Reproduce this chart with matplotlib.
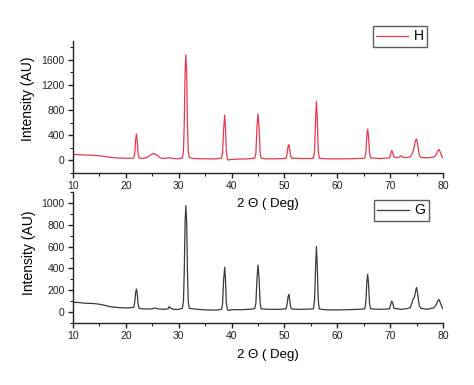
import matplotlib
matplotlib.use("Agg")
import matplotlib.pyplot as plt
from matplotlib.ticker import MultipleLocator

plt.rcParams['font.family'] = ['Liberation Sans', 'DejaVu Sans']

# ---- data ----
H_x = [10.0, 11.0, 12.0, 13.0, 14.0, 15.0, 16.0, 17.0, 18.0, 19.0, 20.0, 21.0,
       21.5, 21.7, 21.85, 22.0, 22.15, 22.3, 22.5,
       23.0, 24.0, 24.6, 25.2, 25.8, 26.5, 27.5, 28.0, 28.3, 29.0, 30.0,
       30.7, 30.9, 31.05, 31.2, 31.35, 31.5, 31.65, 31.8, 32.0,
       33.0, 35.0, 37.0, 38.1, 38.3, 38.5, 38.7, 38.85, 39.0, 39.2, 39.4, 39.8, 41.0, 43.0,
       44.4, 44.6, 44.8, 45.0, 45.2, 45.4, 45.6,
       46.5, 48.0, 50.0, 50.3, 50.5, 50.7, 50.85, 51.0, 51.2, 51.4,
       53.0, 55.0, 55.5, 55.7, 55.9, 56.05, 56.2, 56.4, 56.6,
       58.0, 60.0, 62.0, 64.0, 65.2, 65.4, 65.6, 65.75, 65.9, 66.1, 66.3,
       68.0, 69.9, 70.1, 70.3, 70.5, 70.7, 71.2, 71.6, 72.0, 72.4, 73.0,
       73.8, 74.2, 74.5, 74.8, 75.0, 75.2, 75.5, 75.8, 77.0,
       78.3, 78.7, 79.0, 79.25, 79.5, 79.8, 80.0]
H_y = [95, 92, 88, 85, 80, 75, 62, 50, 42, 38, 35, 33,
       40, 120, 330, 420, 320, 110, 40,
       30, 45, 85, 110, 90, 40, 30, 45, 40, 30, 25,
       40, 150, 600, 1400, 1680, 1400, 600, 150, 45,
       30, 25, 25, 35, 120, 500, 720, 520, 150, 20, 5, 15, 20, 25,
       35, 120, 520, 740, 530, 130, 35,
       25, 25, 30, 35, 100, 230, 250, 170, 60, 35,
       30, 30, 35, 150, 650, 940, 700, 150, 35,
       25, 25, 25, 30, 35, 120, 400, 500, 380, 120, 40,
       30, 40, 100, 160, 120, 55, 45, 50, 75, 50, 45,
       55, 110, 200, 320, 340, 260, 90, 50, 40,
       55, 90, 150, 175, 130, 60, 40]

G_x = [10.0, 11.0, 12.0, 13.0, 14.0, 15.0, 16.0, 17.0, 18.0, 19.0, 20.0, 21.0,
       21.5, 21.7, 21.85, 22.0, 22.15, 22.3, 22.5,
       23.0, 24.0, 25.0, 25.5, 26.0, 27.0, 28.0, 28.2, 28.5, 29.0, 30.0,
       30.7, 30.9, 31.05, 31.2, 31.35, 31.5, 31.65, 31.8, 32.0,
       33.0, 35.0, 37.0, 38.1, 38.3, 38.5, 38.7, 38.85, 39.0, 39.2, 39.4, 40.0, 42.0, 44.0,
       44.4, 44.6, 44.8, 45.0, 45.2, 45.4, 45.6,
       47.0, 49.0, 50.3, 50.5, 50.7, 50.85, 51.0, 51.2, 51.4,
       53.0, 55.0, 55.5, 55.7, 55.9, 56.05, 56.2, 56.4, 56.6,
       58.0, 60.0, 62.0, 64.0, 65.2, 65.4, 65.6, 65.75, 65.9, 66.1, 66.3,
       68.0, 69.9, 70.1, 70.3, 70.5, 70.7, 72.0, 73.0,
       73.8, 74.1, 74.3, 74.6, 74.85, 75.0, 75.2, 75.5, 75.8, 77.0,
       78.3, 78.7, 79.0, 79.25, 79.5, 79.8, 80.0]
G_y = [90, 88, 82, 80, 78, 72, 62, 50, 44, 40, 38, 40,
       45, 100, 180, 210, 170, 80, 35,
       30, 28, 30, 38, 30, 25, 30, 50, 35, 25, 25,
       35, 100, 380, 820, 975, 820, 380, 100, 35,
       28, 20, 18, 25, 80, 300, 410, 300, 90, 25, 15, 22, 22, 28,
       35, 80, 300, 430, 310, 80, 30,
       25, 25, 30, 70, 145, 160, 110, 40, 28,
       25, 28, 30, 110, 420, 600, 440, 110, 28,
       20, 20, 22, 25, 30, 90, 280, 345, 270, 80, 30,
       25, 30, 70, 100, 80, 35, 25, 30,
       40, 80, 115, 140, 200, 225, 170, 60, 35, 25,
       40, 65, 100, 115, 85, 45, 30]

x_ticks = [10, 20, 30, 40, 50, 60, 70, 80]
H_yticks = [0, 400, 800, 1200, 1600]
G_yticks = [0, 200, 400, 600, 800, 1000]

W, Hh = 474, 385
fig = plt.figure(figsize=(W / 100, Hh / 100), dpi=100)

def px_axes(l, t, r, b):
    return fig.add_axes([l / W, 1 - b / Hh, (r - l) / W, (b - t) / Hh])

ax1 = px_axes(73, 41, 443, 173)
ax2 = px_axes(73, 192, 443, 323)

red = '#e8394f'
dark = '#3a3a3a'

ax1.plot(H_x, H_y, color=red, lw=0.9, label='H')
ax2.plot(G_x, G_y, color=dark, lw=0.9, label='G')

for ax, yt, ylim, yminor in [(ax1, H_yticks, (-200, 1900), 200), (ax2, G_yticks, (-100, 1100), 100)]:
    ax.set_xlim(10, 80)
    ax.set_ylim(*ylim)
    ax.set_xticks(x_ticks)
    ax.set_yticks(yt)
    ax.xaxis.set_minor_locator(MultipleLocator(5))
    ax.yaxis.set_minor_locator(MultipleLocator(yminor))
    for s in ['top', 'right']:
        ax.spines[s].set_visible(False)
    for s in ['left', 'bottom']:
        ax.spines[s].set_linewidth(1.0)
        ax.spines[s].set_color('#222222')
    ax.tick_params(which='major', direction='out', length=3.5, width=1.0, labelsize=7.5,
                   colors='#222222', pad=2.5)
    ax.tick_params(which='minor', direction='out', length=2, width=0.8, colors='#222222')
    ax.set_xlabel('2 \u0398 ( Deg)', fontsize=9.5)
    ax.set_ylabel('Intensity (AU)', fontsize=10)
    ax.patch.set_alpha(0)

ax1.xaxis.set_label_coords(0.526, -0.19)
ax1.yaxis.set_label_coords(-0.103, 0.56)
ax2.xaxis.set_label_coords(0.526, -0.2)
ax2.yaxis.set_label_coords(-0.100, 0.54)

leg_kw = dict(loc='upper right', bbox_transform=fig.transFigure, borderaxespad=0,
              fontsize=10, frameon=True, fancybox=False, handlelength=2.3,
              handletextpad=0.4, borderpad=0.25)
l1 = ax1.legend(bbox_to_anchor=(427 / W, 1 - 26 / Hh), **leg_kw)
l2 = ax2.legend(bbox_to_anchor=(429 / W, 1 - 200 / Hh), **leg_kw)
for lg in (l1, l2):
    lg.get_frame().set_edgecolor('#333333')
    lg.get_frame().set_linewidth(1.0)

fig.savefig('out.png', dpi=100)
